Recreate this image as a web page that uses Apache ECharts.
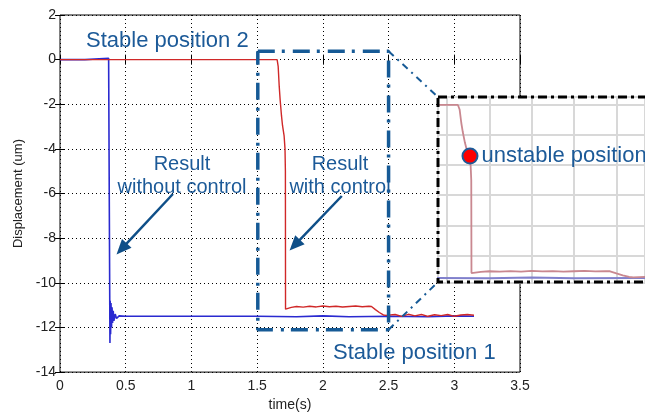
<!DOCTYPE html>
<html>
<head>
<meta charset="utf-8">
<script src="https://cdn.jsdelivr.net/npm/echarts@6/dist/echarts.min.js"></script>
<style>
html, body { margin: 0; padding: 0; background: #fff; }
#main { width: 645px; height: 417px; }
</style>
</head>
<body>
<div id="main"></div>
<script>
// time (s) and displacement (um)
var t_nocontrol = [0, 0.19, 0.2, 0.37, 0.378, 0.38, 0.382, 0.385, 0.388, 0.392, 0.396, 0.4, 0.405, 0.41, 0.42, 0.43, 0.45, 0.5, 1.0, 1.5, 1.8, 2.0, 2.2, 2.5, 2.8, 3.0, 3.15]
var v_nocontrol = [0, 0, 0.06, 0.06, 0.05, -12.7, -10.8, -12.3, -10.9, -12.0, -11.1, -11.8, -11.25, -11.7, -11.4, -11.6, -11.48, -11.5, -11.5, -11.5, -11.52, -11.48, -11.52, -11.5, -11.52, -11.48, -11.5]

var t_control = [0, 1.652, 1.66, 1.668, 1.675, 1.685, 1.693, 1.705, 1.712, 1.715, 1.716, 1.72, 1.76, 1.8, 1.85, 1.9, 1.95, 2.0, 2.05, 2.1, 2.15, 2.2, 2.25, 2.3, 2.35, 2.37, 2.4, 2.43, 2.46, 2.48, 2.55, 2.6, 2.65, 2.7, 2.75, 2.8, 2.85, 2.9, 2.95, 3.0, 3.05, 3.1, 3.15]
var v_control = [0, 0, -0.3, -1.2, -1.8, -2.5, -2.95, -3.4, -4.0, -5.0, -11.18, -11.12, -11.1, -11.06, -11.09, -11.05, -11.08, -11.04, -11.07, -11.05, -11.08, -11.06, -11.04, -11.07, -11.05, -11.06, -11.2, -11.33, -11.44, -11.46, -11.42, -11.5, -11.41, -11.48, -11.42, -11.5, -11.43, -11.47, -11.42, -11.5, -11.44, -11.42, -11.45]

// zoom box drawn round the transition
var box_t = [1.505, 2.5, 2.5, 1.505, 1.505]
var box_v = [0.38, 0.38, -12.1, -12.1, 0.38]

var unstable_point = [1.709, -3.4]

var x_ticks = { min: 0, max: 3.5, interval: 0.5 }
var y_ticks = { min: -14, max: 2, interval: 2 }

function pairs(xs, ys) {
    var out = []
    for (var i = 0; i < xs.length; i++) {
        out.push([xs[i], ys[i]])
    }
    return out
}

var font = "'Liberation Sans', Arial, sans-serif"
var note_color = '#1c5a98'
var arrow_color = '#0f4f88'

var option = {
    animation: false,
    grid: [
        { left: 60, right: 125, top: 15, bottom: 39, show: true, borderColor: '#000', borderWidth: 1, z: 0 },
        { left: 438, right: 0, top: 97, bottom: 134, show: true, backgroundColor: '#fff', borderWidth: 0, z: 10 }
    ],
    xAxis: [
        {
            type: 'value', gridIndex: 0, min: x_ticks.min, max: x_ticks.max, interval: x_ticks.interval,
            name: 'time(s)', nameLocation: 'middle', nameGap: 22,
            nameTextStyle: { fontSize: 14, color: '#222', fontFamily: font },
            axisLine: { show: false },
            axisTick: { inside: true, length: 5, lineStyle: { color: '#000' } },
            axisLabel: { fontSize: 14, color: '#222', margin: 7, fontFamily: font },
            splitLine: { show: true, lineStyle: { type: [1, 3], color: '#000', width: 1 } }
        },
        {
            type: 'value', gridIndex: 0, position: 'top', min: x_ticks.min, max: x_ticks.max, interval: x_ticks.interval,
            axisLine: { show: false },
            axisTick: { inside: true, length: 5, lineStyle: { color: '#000' } },
            axisLabel: { show: false },
            splitLine: { show: false }
        },
        {
            type: 'value', gridIndex: 1, min: 1.558, max: 2.535, splitNumber: 5, z: 11,
            axisLine: { show: false }, axisTick: { show: false }, axisLabel: { show: false },
            splitLine: { show: true, lineStyle: { color: '#d8d8d8', width: 2 } }
        }
    ],
    yAxis: [
        {
            type: 'value', gridIndex: 0, min: y_ticks.min, max: y_ticks.max, interval: y_ticks.interval,
            name: 'Displacement (um)', nameLocation: 'middle', nameGap: 32,
            nameTextStyle: { fontSize: 13, color: '#222', fontFamily: font },
            axisLine: { show: false },
            axisTick: { inside: true, length: 5, lineStyle: { color: '#000' } },
            axisLabel: { fontSize: 14, color: '#222', margin: 4, fontFamily: font },
            splitLine: { show: true, lineStyle: { type: [1, 3], color: '#000', width: 1 } }
        },
        {
            type: 'value', gridIndex: 0, position: 'right', min: y_ticks.min, max: y_ticks.max, interval: y_ticks.interval,
            axisLine: { show: false },
            axisTick: { inside: true, length: 5, lineStyle: { color: '#000' } },
            axisLabel: { show: false },
            splitLine: { show: false }
        },
        {
            type: 'value', gridIndex: 1, min: -11.84, max: 0.53, splitNumber: 6, z: 11,
            axisLine: { show: false }, axisTick: { show: false }, axisLabel: { show: false },
            splitLine: { show: true, lineStyle: { color: '#d8d8d8', width: 2 } }
        }
    ],
    series: [
        {
            name: 'without control', type: 'line', xAxisIndex: 0, yAxisIndex: 0,
            data: pairs(t_nocontrol, v_nocontrol), showSymbol: false, symbol: 'none',
            lineStyle: { color: '#2a2ad0', width: 1.6 }, z: 2,
            markLine: {
                silent: true, symbol: ['none', 'triangle'], symbolSize: [13, 15],
                label: { show: false },
                lineStyle: { color: arrow_color, width: 2.5, type: 'solid' },
                data: [
                    [{ coord: [0.859, -6.02] }, { coord: [0.469, -8.48] }],
                    [{ coord: [2.144, -6.11] }, { coord: [1.786, -8.31] }]
                ]
            }
        },
        {
            name: 'with control', type: 'line', xAxisIndex: 0, yAxisIndex: 0,
            data: pairs(t_control, v_control), showSymbol: false, symbol: 'none',
            lineStyle: { color: '#d02828', width: 1.4 }, z: 3
        },
        {
            name: 'zoom box', type: 'line', xAxisIndex: 0, yAxisIndex: 0,
            data: pairs(box_t, box_v), showSymbol: false, symbol: 'none',
            lineStyle: { color: '#165a96', width: 3.5, type: [17, 7, 3, 8], cap: 'butt' }, z: 4,
            markLine: {
                silent: true, symbol: ['none', 'none'],
                label: { show: false },
                lineStyle: { color: '#165a96', width: 2, type: [7, 5, 2, 5] },
                data: [
                    [{ coord: [2.5, 0.38] }, { x: 438, y: 97 }],
                    [{ coord: [2.5, -12.1] }, { x: 438, y: 282 }]
                ]
            }
        },
        {
            name: 'inset without control', type: 'line', xAxisIndex: 2, yAxisIndex: 2,
            data: pairs(t_nocontrol, v_nocontrol), showSymbol: false, symbol: 'none',
            lineStyle: { color: '#8080cc', width: 2 }, z: 12
        },
        {
            name: 'inset with control', type: 'line', xAxisIndex: 2, yAxisIndex: 2,
            data: pairs(t_control, v_control), showSymbol: false, symbol: 'none',
            lineStyle: { color: '#c98890', width: 1.8 }, z: 13
        },
        {
            name: 'unstable position', type: 'scatter', xAxisIndex: 2, yAxisIndex: 2,
            data: [unstable_point], symbolSize: 15, z: 14,
            itemStyle: { color: '#ff0000', borderColor: '#1c5a98', borderWidth: 2, opacity: 1 },
            label: {
                show: true, position: 'right', distance: 3, formatter: 'unstable position',
                fontSize: 22, color: note_color, fontFamily: font
            }
        }
    ],
    graphic: [
        {
            type: 'rect', z: 20, silent: true,
            shape: { x: 438, y: 97, width: 240, height: 185 },
            style: { fill: 'none', stroke: '#000', lineWidth: 3, lineDash: [9, 4, 3, 4] }
        },
        {
            type: 'text', z: 30, left: 86, top: 30,
            style: { text: 'Stable position 2', fontSize: 22, fill: note_color, fontFamily: font }
        },
        {
            type: 'text', z: 30, left: 333, top: 342,
            style: { text: 'Stable position 1', fontSize: 22, fill: note_color, fontFamily: font }
        },
        {
            type: 'text', z: 30, x: 182, y: 176,
            style: { text: 'Result\nwithout control', fontSize: 20, lineHeight: 23, fill: note_color, fontFamily: font, align: 'center', verticalAlign: 'middle' }
        },
        {
            type: 'text', z: 30, x: 340, y: 176,
            style: { text: 'Result\nwith control', fontSize: 20, lineHeight: 23, fill: note_color, fontFamily: font, align: 'center', verticalAlign: 'middle' }
        }
    ]
}

var myChart = echarts.init(document.getElementById('main'))
myChart.setOption(option, true)
</script>
</body>
</html>
